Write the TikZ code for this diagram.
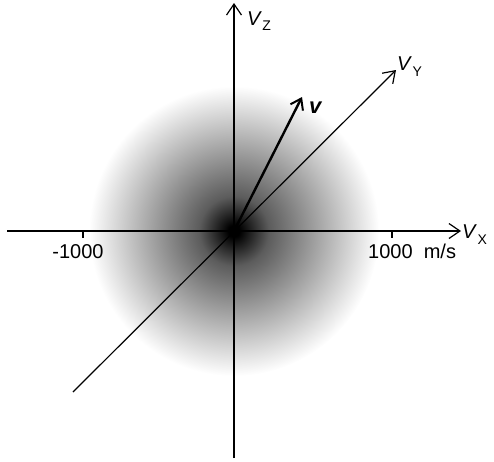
\documentclass[tikz,border=0pt]{standalone}
\usepackage{fontspec}
\setmainfont{Liberation Sans}
\usetikzlibrary{arrows.meta}
\pgfdeclareradialshading{glow}{\pgfpointorigin}{color(0bp)=(black); color(1bp)=(black); color(6bp)=(black!64); color(25bp)=(white); color(50bp)=(white)}
\begin{document}
\begin{tikzpicture}[x=1pt,y=-1pt,
  axis/.style={line width=1.2pt, -{Straight Barb[length=11pt,width=15pt,line width=1.2pt]}},
  vec/.style={line width=2.4pt, -{Straight Barb[length=10pt,width=14pt,line width=2pt]}},
  lab/.style={font=\fontsize{20}{22}\selectfont, inner sep=0pt},
  sub/.style={font=\fontsize{14}{16}\selectfont, inner sep=0pt}]
\useasboundingbox (0,0) rectangle (494,461);
\shade[shading=glow] (234,231) circle[radius=145];
\coordinate (O) at (234,231);
\coordinate (xl) at (7,231);
\coordinate (xr) at (461,231);
\coordinate (zb) at (234,458);
\coordinate (zt) at (234,3);
\coordinate (yb) at (73,392);
\coordinate (yt) at (396,70);
\coordinate (vt) at (302,97);
\coordinate (tm) at (83,231);
\coordinate (tp) at (392,231);
\draw[axis] (xl) -- (xr);
\draw[axis] (zb) -- (zt);
\draw[axis] (yb) -- (yt);
\draw[vec] (O) -- (vt);
\draw[line width=1.2pt] (tm) -- ++(0,7);
\draw[line width=1.2pt] (tp) -- ++(0,7);
\node[lab, anchor=base] (m1000) at (78,258) {-1000};
\node[lab, anchor=base west] (p1000) at (368,258) {1000\ \ m/s};
\node[lab, anchor=base west] (VX) at (462,238) {\textit{V}};
\node[sub, anchor=base west] (X) at (VX.base east) [yshift=-6pt] {X};
\node[lab, anchor=base west] (VZ) at (247,25) {\textit{V}};
\node[sub, anchor=base west] (Z) at (VZ.base east) [yshift=-5pt] {Z};
\node[lab, anchor=base west] (VY) at (397,70) {\textit{V}};
\node[sub, anchor=base west] (Y) at (VY.base east) [yshift=-6pt] {Y};
\node[lab, anchor=base west, font=\fontsize{22}{24}\selectfont\bfseries\itshape] (v) at (309,113) {v};
\end{tikzpicture}
\end{document}
